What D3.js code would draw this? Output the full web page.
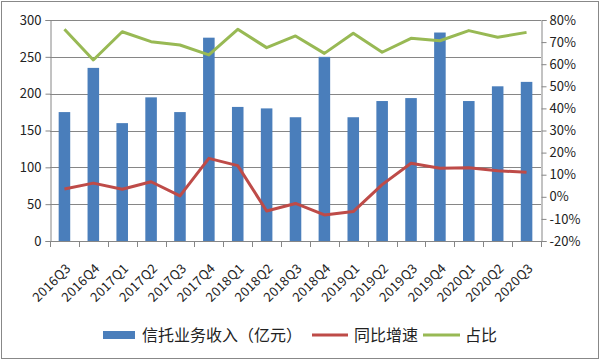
<!DOCTYPE html>
<html><head><meta charset="utf-8">
<script src="https://cdn.jsdelivr.net/npm/d3@7"></script>
<style>body{margin:0;background:#fff}svg{display:block}text{font-family:"Noto Sans CJK SC","Microsoft YaHei",sans-serif}</style>
</head><body>
<svg id="c" width="600" height="360"></svg>
<script>
const categories = ["2016Q3","2016Q4","2017Q1","2017Q2","2017Q3","2017Q4","2018Q1","2018Q2","2018Q3","2018Q4","2019Q1","2019Q2","2019Q3","2019Q4","2020Q1","2020Q2","2020Q3"];
const revenue = [175,235,160,195,175,276,182,180,168,250,168,190,194,283,190,210,216];
const yoyGrowth = [3.5,6.2,3.4,6.8,0.4,17.4,14.1,-6.4,-3.0,-8.2,-6.7,5.5,15.2,12.9,13.1,11.8,11.1];
const share = [75.8,61.9,74.7,70.2,68.7,64.2,75.8,67.5,72.8,64.9,74.0,65.4,71.7,70.6,75.2,72.2,74.4];
const leftTicks = [0,50,100,150,200,250,300];
const rightTicks = [-20,-10,0,10,20,30,40,50,60,70,80];
const seriesNames = ["信托业务收入（亿元）","同比增速","占比"];

const svg = d3.select("#c");
svg.append("rect").attr("x",1.5).attr("y",1.5).attr("width",597).attr("height",357).attr("fill","#fff").attr("stroke","#888");
const L=50, R=541, T=20, B=241;
const x = d3.scaleBand().domain(categories).range([L,R]).paddingInner(0.6).paddingOuter(0.3);
const xo = d3.scaleBand().domain(categories).range([L,R]);
const yL = d3.scaleLinear().domain([0,300]).range([B,T]);
const yR = d3.scaleLinear().domain([-20,80]).range([B,T]);

// gridlines
svg.append("g").selectAll("line").data(leftTicks.filter(d=>d>0)).join("line")
  .attr("x1",L).attr("x2",R).attr("y1",d=>Math.round(yL(d))+0.5).attr("y2",d=>Math.round(yL(d))+0.5)
  .attr("stroke","#868686").attr("stroke-width",1);

// left axis
const gl = svg.append("g").attr("transform",`translate(${L+0.5},0)`)
  .call(d3.axisLeft(yL).tickValues(leftTicks).tickSize(5).tickPadding(4));
gl.select(".domain").attr("stroke","#868686");
gl.selectAll(".tick line").attr("stroke","#868686");
gl.selectAll("text").attr("font-size",13).attr("fill","#222");

// right axis
const gr = svg.append("g").attr("transform",`translate(${R+0.5},0)`)
  .call(d3.axisRight(yR).tickValues(rightTicks).tickSize(5).tickPadding(3).tickFormat(d=>d+"%"));
gr.select(".domain").attr("stroke","#868686");
gr.selectAll(".tick line").attr("stroke","#868686");
gr.selectAll("text").attr("font-size",13).attr("fill","#222");

// bars
svg.append("g").selectAll("rect").data(revenue).join("rect")
  .attr("x",(d,i)=>x(categories[i])).attr("width",x.bandwidth())
  .attr("y",d=>yL(d)).attr("height",d=>B-yL(d)).attr("fill","#4a7ebb");

// x axis
svg.append("line").attr("x1",L).attr("x2",R).attr("y1",B+0.5).attr("y2",B+0.5).attr("stroke","#868686");
svg.append("g").selectAll("line").data(categories.concat(["_end"])).join("line")
  .attr("x1",(d,i)=>Math.round(L+i*xo.step())+0.5).attr("x2",(d,i)=>Math.round(L+i*xo.step())+0.5)
  .attr("y1",B).attr("y2",B+6).attr("stroke","#868686");
svg.append("g").selectAll("text").data(categories).join("text")
  .attr("transform",d=>`translate(${xo(d)+xo.bandwidth()/2+4},${B+25}) rotate(-45)`)
  .attr("text-anchor","end").attr("dy","0.35em").attr("font-size",13).attr("letter-spacing",0.3).attr("fill","#222").text(d=>d);

// lines
const lineR = d3.line().x((d,i)=>xo(categories[i])+xo.bandwidth()/2).y(d=>yR(d));
svg.append("path").datum(yoyGrowth).attr("d",lineR).attr("fill","none").attr("stroke","#be4b48").attr("stroke-width",3).attr("stroke-linejoin","round");
svg.append("path").datum(share).attr("d",lineR).attr("fill","none").attr("stroke","#98b954").attr("stroke-width",3).attr("stroke-linejoin","round");

// legend
const lg = svg.append("g").attr("font-size",16).attr("fill","#222");
lg.append("rect").attr("x",103).attr("y",331).attr("width",32).attr("height",8).attr("fill","#4a7ebb");
lg.append("text").attr("x",142).attr("y",335).attr("dy","0.35em").text(seriesNames[0]);
lg.append("line").attr("x1",312).attr("x2",348).attr("y1",335).attr("y2",335).attr("stroke","#be4b48").attr("stroke-width",3);
lg.append("text").attr("x",354).attr("y",335).attr("dy","0.35em").text(seriesNames[1]);
lg.append("line").attr("x1",423).attr("x2",460).attr("y1",335).attr("y2",335).attr("stroke","#98b954").attr("stroke-width",3);
lg.append("text").attr("x",465).attr("y",335).attr("dy","0.35em").text(seriesNames[2]);
</script>
</body></html>
